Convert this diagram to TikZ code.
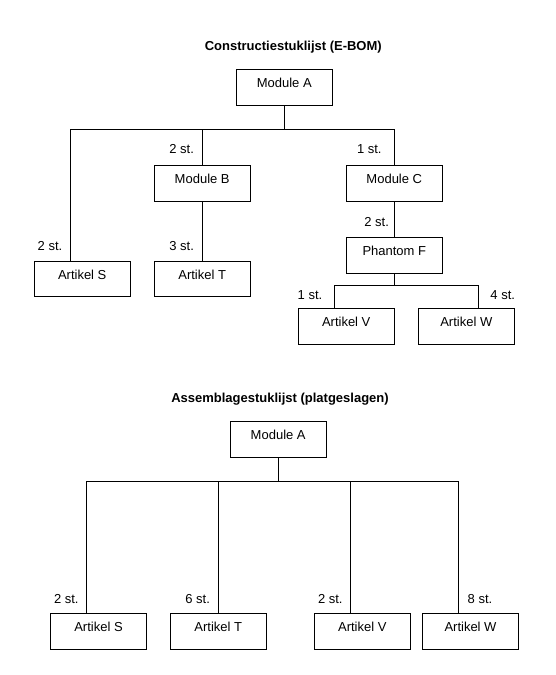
\documentclass[tikz,border=0pt]{standalone}
\usepackage{fontspec}
\setmainfont{Liberation Sans}
\tikzset{onderdeel/.style={draw, font=\fontsize{13}{15}\selectfont, minimum width=96pt, minimum height=35.5pt, inner sep=0pt, text height=6pt, text depth=6pt},
         aantal/.style={font=\fontsize{13}{15}\selectfont, inner sep=0pt},
         titel/.style={font=\fontsize{13}{15}\selectfont\bfseries, inner sep=0pt}}

\begin{document}
\begin{tikzpicture}[x=1pt, y=-1pt, line width=0.9pt]
  \useasboundingbox (0,0) rectangle (555,675);
  % Constructiestuklijst
  \node[titel] (t1) at (293.3,46.7) {Constructiestuklijst (E-BOM)};
  \node[onderdeel] (modA) at (284.3,87.3) {Module A};
  \node[onderdeel] (modB) at (202.2,183.3) {Module B};     \node[aantal] (qB) at (181.7,149.3) {2 st.};
  \node[onderdeel] (modC) at (394.3,183.3) {Module C};     \node[aantal] (qC) at (369.3,149.3) {1 st.};
  \node[onderdeel] (artS) at (82.2,279) {Artikel S};       \node[aantal] (qS) at (50,246) {2 st.};
  \node[onderdeel] (artT) at (202.2,279) {Artikel T};      \node[aantal] (qT) at (181.7,246) {3 st.};
  \node[onderdeel] (phF) at (394.3,255.2) {Phantom F};     \node[aantal] (qF) at (376.7,221.7) {2 st.};
  \node[onderdeel] (artV) at (346.2,326.5) {Artikel V};    \node[aantal] (qV) at (310,295) {1 st.};
  \node[onderdeel] (artW) at (466.3,326.5) {Artikel W};    \node[aantal] (qW) at (502.7,295) {4 st.};
  \coordinate (sL) at (70.3,129.3);
  \coordinate (vL) at (334.3,285);
  \coordinate (wR) at (478.7,285);
  \draw (artS.north -| sL) -- (sL) -- (modC.north |- sL) -- (modC.north);
  \draw (modA) -- (modA |- sL);
  \draw (modB.north) -- (modB.north |- sL);
  \draw (modB) -- (artT);
  \draw (modC) -- (phF);
  \draw (artV.north -| vL) -- (vL) -- (wR) -- (artW.north -| wR);
  \draw (phF) -- (phF |- vL);
  % Assemblagestuklijst
  \node[titel] (t2) at (280,399.6) {Assemblagestuklijst (platgeslagen)};
  \node[onderdeel] (modA2) at (278.2,439.3) {Module A};
  \node[onderdeel] (artS2) at (98.5,631.2) {Artikel S};    \node[aantal] (qS2) at (66.3,599) {2 st.};
  \node[onderdeel] (artT2) at (218.3,631.2) {Artikel T};   \node[aantal] (qT2) at (197.7,599) {6 st.};
  \node[onderdeel] (artV2) at (362.3,631.2) {Artikel V};   \node[aantal] (qV2) at (330.3,599) {2 st.};
  \node[onderdeel] (artW2) at (470.5,631.2) {Artikel W};   \node[aantal] (qW2) at (480,599) {8 st.};
  \coordinate (pL) at (86.3,481.3);
  \coordinate (pT) at (218.7,481.3);
  \coordinate (pV) at (350.3,481.3);
  \coordinate (pR) at (458,481.3);
  \draw (artS2.north -| pL) -- (pL) -- (pR) -- (artW2.north -| pR);
  \draw (modA2) -- (modA2 |- pL);
  \draw (pT) -- (artT2.north -| pT);
  \draw (pV) -- (artV2.north -| pV);
\end{tikzpicture}
\end{document}
